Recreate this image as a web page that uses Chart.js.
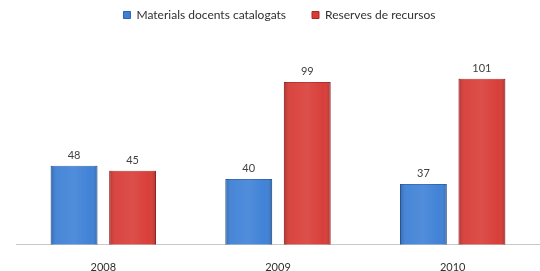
<!DOCTYPE html>
<html>
<head>
<meta charset="utf-8">
<script src="https://cdn.jsdelivr.net/npm/chart.js@4"></script>
<style>
  html, body { margin: 0; padding: 0; background: #fff; }
  #wrap { width: 540px; height: 271px; }
</style>
</head>
<body>
<div id="wrap"><canvas id="myChart"></canvas></div>
<script>
const years = ['2008', '2009', '2010'];
const materials = [48, 40, 37];
const reserves = [45, 99, 101];

// soft side shading on each bar, then the value above it
const valueLabels = {
    id: 'valueLabels',
    afterDatasetsDraw(chart) {
        const c = chart.ctx;
        c.save();
        chart.data.datasets.forEach((ds, i) => {
            chart.getDatasetMeta(i).data.forEach((bar) => {
                const left = bar.x - bar.width / 2;
                const g = c.createLinearGradient(left, 0, left + bar.width, 0);
                g.addColorStop(0, 'rgba(0,0,0,0.18)');
                g.addColorStop(0.15, 'rgba(255,255,255,0.06)');
                g.addColorStop(0.5, 'rgba(255,255,255,0.1)');
                g.addColorStop(0.85, 'rgba(255,255,255,0.02)');
                g.addColorStop(1, 'rgba(0,0,0,0.18)');
                c.fillStyle = g;
                c.fillRect(left, bar.y, bar.width, bar.base - bar.y);
            });
        });
        c.font = '11px Lato';
        c.fillStyle = '#404040';
        c.textAlign = 'center';
        c.textBaseline = 'bottom';
        chart.data.datasets.forEach((ds, i) => {
            chart.getDatasetMeta(i).data.forEach((bar, j) => {
                c.fillText(ds.data[j], bar.x, bar.y - 5);
            });
        });
        c.restore();
    }
};

new Chart(document.getElementById('myChart'), {
    type: 'bar',
    data: {
        labels: years,
        datasets: [
            {
                label: 'Materials docents catalogats',
                data: materials,
                backgroundColor: '#3d80d6',
                borderColor: '#2c62b0',
                borderWidth: 1
            },
            {
                label: 'Reserves de recursos',
                data: reserves,
                backgroundColor: '#d83b36',
                borderColor: '#ad2727',
                borderWidth: 1
            }
        ]
    },
    options: {
        responsive: true,
        maintainAspectRatio: false,
        animation: false,
        categoryPercentage: 0.67,
        barPercentage: 0.8,
        layout: { padding: { left: 16, right: -3, top: -17, bottom: -11 } },
        scales: {
            x: {
                grid: { display: false },
                border: { color: '#c8c8c8' },
                ticks: { font: { family: 'Lato', size: 11 }, color: '#303030', padding: 8 }
            },
            y: {
                display: false,
                min: 0,
                max: 130
            }
        },
        plugins: {
            legend: {
                position: 'top',
                labels: {
                    font: { family: 'Lato', size: 12 },
                    color: '#303030',
                    boxWidth: 7,
                    boxHeight: 7,
                    padding: 26
                }
            },
            tooltip: { enabled: false }
        }
    },
    plugins: [valueLabels]
});
</script>
</body>
</html>
